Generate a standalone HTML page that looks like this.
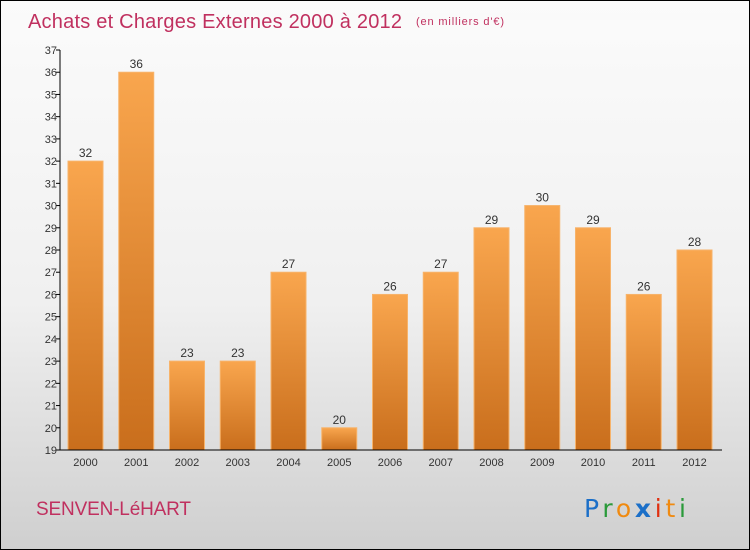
<!DOCTYPE html>
<html><head><meta charset="utf-8"><style>
body{margin:0}
#c{position:relative;width:748px;height:548px;border:1px solid #000;background:linear-gradient(#fbfbfb 0%,#f0f0f0 55%,#cfcfcf 100%);font-family:"Liberation Sans",sans-serif;overflow:hidden}
</style></head><body>
<div id="c">
<svg width="748" height="548" xmlns="http://www.w3.org/2000/svg" id="svg">
<defs><linearGradient id="bg" x1="0" y1="0" x2="0" y2="1"><stop offset="0" stop-color="#f9a64e"/><stop offset="1" stop-color="#c96e1c"/></linearGradient></defs>
<text x="27" y="27" font-size="20" fill="#c0305f" textLength="374">Achats et Charges Externes 2000 à 2012</text>
<text x="415" y="24" font-size="11" fill="#c0305f" textLength="88">(en milliers d'€)</text>
<g id="plot"></g>
<text x="35" y="514" font-size="19" fill="#c0305f" textLength="155">SENVEN-LéHART</text>
<text x="583" y="516" font-family="'DejaVu Sans',sans-serif" font-size="25" textLength="102"><tspan fill="#1b6fc8">P</tspan><tspan fill="#2a9a3a">r</tspan><tspan fill="#f08a10">o</tspan><tspan fill="#1b6fc8" font-weight="bold">x</tspan><tspan fill="#e03010">i</tspan><tspan fill="#f08a10">t</tspan><tspan fill="#2a9a3a">i</tspan></text>
</svg>
</div>
<script>
const years=["2000","2001","2002","2003","2004","2005","2006","2007","2008","2009","2010","2011","2012"];
const values=[32,36,23,23,27,20,26,27,29,30,29,26,28];
const yTicks=[19,20,21,22,23,24,25,26,27,28,29,30,31,32,33,34,35,36,37];
const NS="http://www.w3.org/2000/svg";
const plotG=document.getElementById('plot');
const yMin=19,yMax=37,plotTop=49,plotBot=449,x0=59,x1=721;
const yScale=v=>plotBot-(v-yMin)/(yMax-yMin)*(plotBot-plotTop);
const step=50.75,bw=35,bx=i=>67+i*step;
function mk(t,a){const e=document.createElementNS(NS,t);for(const k in a)e.setAttribute(k,a[k]);plotG.appendChild(e);return e;}
values.forEach((v,i)=>{
 const r=mk('rect',{x:bx(i),y:yScale(v),width:bw,height:plotBot-yScale(v),fill:'url(#bg)',stroke:'#f7b36a','stroke-width':1});
 
 
 const t=mk('text',{x:bx(i)+bw/2,y:yScale(v)-4,'text-anchor':'middle','font-size':12,fill:'#333'});t.textContent=v;
 
 
 const xl=mk('text',{x:bx(i)+bw/2,y:plotBot+16,'text-anchor':'middle','font-size':11,fill:'#333'});xl.textContent=years[i];
 
 
});
yTicks.forEach(v=>{
 mk('line',{x1:x0-4,x2:x0,y1:yScale(v),y2:yScale(v),stroke:'#000'});
 const t=mk('text',{x:x0-3,y:yScale(v)+4,'text-anchor':'end','font-size':11,fill:'#333'});t.textContent=v;
 
 
});
const ya=mk('line',{x1:x0,x2:x0,y1:plotTop,y2:plotBot,stroke:'#000'});


const xa=mk('line',{x1:x0,x2:x1,y1:plotBot,y2:plotBot,stroke:'#000'});


</script>
</body></html>
